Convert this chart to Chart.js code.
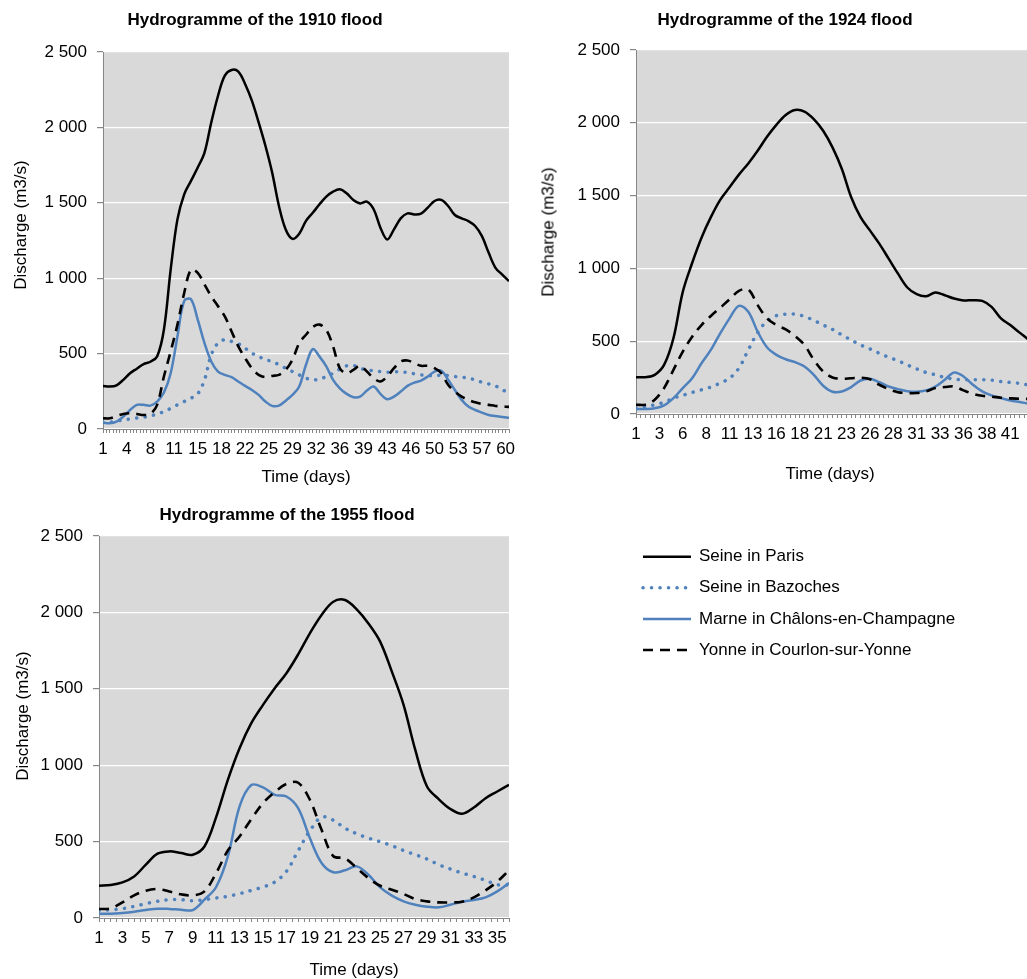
<!DOCTYPE html>
<html lang="en">
<head>
<meta charset="utf-8">
<title>Hydrogrammes des crues</title>
<script src="https://cdn.jsdelivr.net/npm/chart.js@4.4.1/dist/chart.umd.min.js"></script>
<style>
    body { margin: 0; background: #fff; overflow: hidden; }
    #lienzo { position: relative; width: 1027px; height: 979px; overflow: hidden; font-family: 'Liberation Sans', Arial, sans-serif; color: #000; }
    #lienzo canvas { position: absolute; }
    .texto { position: absolute; font-size: 17px; line-height: 1; white-space: nowrap; transform: translate(-50%, -50%); }
    .titulo { font-weight: bold; }
    .vertical { transform: translate(-50%, -50%) rotate(-90deg); }
</style>
</head>
<body>
<div id="lienzo">
    <canvas id="grafico1910" width="515" height="490" style="left:0;top:0"></canvas>
    <canvas id="grafico1924" width="500" height="490" style="left:538px;top:0"></canvas>
    <canvas id="grafico1955" width="515" height="484" style="left:0;top:495px"></canvas>
    <canvas id="leyenda" width="398" height="140" style="left:629px;top:534px"></canvas>

    <div class="texto titulo" style="left:255px;top:19px">Hydrogramme of the 1910 flood</div>
    <div class="texto titulo" style="left:785px;top:19px">Hydrogramme of the 1924 flood</div>
    <div class="texto titulo" style="left:287px;top:514px">Hydrogramme of the 1955 flood</div>

    <div class="texto vertical" style="left:19.5px;top:225px">Discharge (m3/s)</div>
    <div class="texto vertical" style="left:548px;top:232px">Discharge (m3/s)</div>
    <div class="texto vertical" style="left:21.5px;top:716px">Discharge (m3/s)</div>

    <div class="texto" style="left:306px;top:476px">Time (days)</div>
    <div class="texto" style="left:830px;top:473px">Time (days)</div>
    <div class="texto" style="left:354px;top:969px">Time (days)</div>
</div>

<script>
// Datos (m3/s por día)
const dias1910 = [1, 2, 3, 4, 5, 6, 7, 8, 9, 10, 11, 12, 13, 14, 15, 16, 17, 18, 19, 20,
    21, 22, 23, 24, 25, 26, 27, 28, 29, 30, 31, 32, 33, 34, 35, 36, 37, 38, 39, 40,
    41, 42, 43, 44, 45, 46, 47, 48, 49, 50, 51, 52, 53, 54, 55, 56, 57, 58, 59, 60, 61];
const seineParis1910 = [286, 282, 290, 326, 370, 400, 430, 446, 481, 658, 1057, 1390, 1556, 1645, 1734, 1833, 2033, 2210, 2343, 2381,
    2370, 2288, 2177, 2033, 1878, 1700, 1479, 1323, 1261, 1295, 1380, 1434, 1490, 1541, 1574, 1590, 1563, 1519, 1496, 1508,
    1457, 1335, 1257, 1324, 1397, 1430, 1423, 1428, 1468, 1512, 1519, 1479, 1419, 1397, 1379, 1346, 1279, 1168, 1069, 1024, 980];
const seineBazoches1910 = [45, 45, 52, 60, 67, 73, 78, 86, 100, 115, 137, 160, 182, 204, 233, 326, 492, 570, 592, 581,
    565, 536, 503, 481, 459, 448, 426, 403, 381, 359, 337, 326, 330, 348, 370, 397, 419, 421, 403, 392,
    386, 381, 377, 379, 379, 375, 366, 359, 355, 353, 357, 355, 348, 344, 337, 326, 310, 299, 286, 259, 245];
const marne1910 = [42, 38, 49, 82, 126, 160, 160, 155, 182, 242, 370, 614, 850, 860, 725, 570, 448, 381, 359, 344,
    315, 286, 259, 226, 182, 153, 155, 188, 226, 282, 426, 530, 480, 415, 326, 270, 233, 211, 215, 255,
    282, 233, 197, 215, 248, 286, 308, 321, 348, 381, 386, 326, 259, 193, 149, 126, 109, 93, 86, 80, 75];
const yonne1910 = [71, 71, 86, 100, 104, 100, 93, 100, 160, 348, 514, 692, 902, 1057, 1035, 958, 880, 814, 747, 647,
    548, 470, 403, 359, 344, 352, 359, 392, 459, 570, 625, 676, 692, 658, 548, 403, 370, 392, 419, 381,
    337, 315, 348, 403, 448, 454, 437, 419, 419, 403, 370, 293, 248, 215, 193, 177, 166, 160, 153, 149, 147];

const dias1924 = [1, 2, 3, 4, 5, 6, 7, 8, 9, 10, 11, 12, 13, 14, 15, 16, 17, 18, 19, 20,
    21, 22, 23, 24, 25, 26, 27, 28, 29, 30, 31, 32, 33, 34, 35, 36, 37, 38, 39, 40, 41, 42, 43];
const seineParis1924 = [253, 253, 269, 337, 520, 839, 1037, 1211, 1352, 1471, 1557, 1644, 1721, 1808, 1904, 1986, 2054, 2088, 2077, 2025,
    1945, 1831, 1683, 1489, 1352, 1261, 1170, 1067, 964, 869, 823, 809, 834, 816, 793, 780, 782, 777, 736, 657, 611, 559, 508];
const seineBazoches1924 = [41, 48, 64, 80, 109, 128, 148, 166, 185, 212, 246, 315, 440, 559, 638, 675, 686, 686, 670, 643,
    611, 581, 543, 508, 474, 447, 417, 390, 365, 337, 310, 285, 269, 251, 239, 235, 235, 235, 233, 223, 217, 210, 198];
const marne1924 = [34, 34, 39, 59, 109, 178, 246, 349, 440, 554, 657, 743, 702, 565, 458, 406, 376, 356, 326, 269,
    194, 153, 155, 185, 230, 242, 219, 189, 171, 157, 153, 162, 189, 235, 285, 258, 201, 155, 128, 109, 93, 82, 71];
const yonne1924 = [64, 64, 98, 178, 303, 429, 531, 611, 673, 730, 787, 846, 855, 748, 657, 611, 581, 536, 474, 372,
    292, 251, 242, 246, 249, 239, 201, 171, 150, 144, 144, 155, 178, 185, 189, 162, 139, 125, 119, 112, 107, 105, 103];

const dias1955 = [1, 2, 3, 4, 5, 6, 7, 8, 9, 10, 11, 12, 13, 14, 15, 16, 17, 18,
    19, 20, 21, 22, 23, 24, 25, 26, 27, 28, 29, 30, 31, 32, 33, 34, 35, 36];
const seineParis1955 = [211, 216, 233, 272, 349, 421, 436, 425, 414, 468, 660, 904, 1111, 1275, 1395, 1504, 1602, 1725,
    1863, 1983, 2070, 2081, 2020, 1928, 1809, 1612, 1395, 1100, 861, 778, 713, 682, 723, 784, 828, 872];
const seineBazoches1955 = [50, 54, 61, 76, 94, 109, 120, 120, 113, 120, 131, 142, 159, 181, 203, 235, 305, 440,
    570, 660, 640, 588, 551, 523, 499, 473, 442, 414, 386, 349, 320, 294, 272, 246, 218, 215];
const marne1955 = [28, 28, 33, 41, 52, 61, 59, 54, 52, 120, 203, 403, 730, 870, 855, 806, 795, 719,
    523, 360, 299, 312, 338, 283, 200, 146, 109, 87, 74, 70, 87, 107, 118, 135, 174, 229];
const yonne1955 = [59, 63, 102, 148, 179, 190, 174, 155, 148, 174, 294, 442, 534, 647, 752, 824, 878, 885,
    774, 577, 405, 390, 327, 261, 211, 185, 157, 124, 109, 102, 102, 107, 135, 181, 238, 312];

// Etiquetas de los ejes (como en la hoja original)
const etiquetasX1910 = ['1', '4', '8', '11', '15', '18', '22', '25', '29', '32', '36', '39', '43', '46', '50', '53', '57', '60'];
const etiquetasX1924 = ['1', '3', '6', '8', '11', '13', '16', '18', '21', '23', '26', '28', '31', '33', '36', '38', '41'];
const etiquetasX1955 = ['1', '3', '5', '7', '9', '11', '13', '15', '17', '19', '21', '23', '25', '27', '29', '31', '33', '35'];
const etiquetasY = ['0', '500', '1 000', '1 500', '2 000', '2 500'];

const nombresSeries = ['Seine in Paris', 'Seine in Bazoches', 'Marne in Châlons-en-Champagne', 'Yonne in Courlon-sur-Yonne'];

// Estilo de cada serie
const estilos = [
    { color: '#000000', ancho: 2.5, guiones: [], extremo: 'butt', orden: 4 },
    { color: '#4f81bd', ancho: 3.5, guiones: [0.1, 8.4], extremo: 'round', orden: 3 },
    { color: '#4f81bd', ancho: 2.5, guiones: [], extremo: 'butt', orden: 2 },
    { color: '#000000', ancho: 2.6, guiones: [10, 7], extremo: 'butt', orden: 1 }
];

const GRIS_EJE = '#868686';
const FUENTE = "'Liberation Sans', Arial, sans-serif";

Chart.defaults.font.family = FUENTE;
Chart.defaults.font.size = 17;
Chart.defaults.color = '#000';

// Fondo gris del área de trazado
const fondoGris = {
    id: 'fondoGris',
    beforeDraw(chart) {
        const { ctx, chartArea } = chart;
        ctx.save();
        ctx.fillStyle = '#d9d9d9';
        ctx.fillRect(chartArea.left, chartArea.top, chartArea.width, chartArea.height);
        ctx.restore();
    }
};

// Leyenda con muestras de línea (trazos y puntos iguales a las series)
const leyendaLineas = {
    id: 'leyendaLineas',
    afterDraw(chart, args, opts) {
        const ctx = chart.ctx;
        chart.data.datasets.forEach(function (ds, i) {
            const y = opts.arriba + i * opts.interlineado;
            ctx.save();
            ctx.strokeStyle = ds.borderColor;
            ctx.lineWidth = ds.borderWidth;
            ctx.lineCap = ds.borderCapStyle;
            ctx.setLineDash(ds.borderDash);
            ctx.beginPath();
            ctx.moveTo(opts.izquierda, y);
            ctx.lineTo(opts.izquierda + opts.largo, y);
            ctx.stroke();
            ctx.setLineDash([]);
            ctx.fillStyle = '#000';
            ctx.font = '17px ' + FUENTE;
            ctx.textBaseline = 'middle';
            ctx.fillText(ds.label, opts.izquierda + opts.largo + 8, y);
            ctx.restore();
        });
    }
};

function estiloSerie(i) {
    const e = estilos[i];
    return {
        label: nombresSeries[i],
        borderColor: e.color,
        backgroundColor: e.color,
        borderWidth: e.ancho,
        borderDash: e.guiones,
        borderCapStyle: e.extremo,
        pointRadius: 0,
        pointHoverRadius: 0,
        tension: 0.35,
        fill: false
    };
}

function crearHidrograma(id, dias, valores, etiquetasX, saltoEtiqueta, marco) {
    const datasets = valores.map(function (serie, i) {
        const ds = estiloSerie(i);
        ds.order = estilos[i].orden;
        ds.data = dias.map((d, j) => ({ x: d, y: serie[j] }));
        return ds;
    });

    return new Chart(document.getElementById(id), {
        type: 'line',
        data: { datasets: datasets },
        plugins: [fondoGris],
        options: {
            responsive: false,
            animation: false,
            devicePixelRatio: 1,
            layout: {
                padding: { left: 0, right: marco.derecha, top: marco.arriba, bottom: marco.abajo }
            },
            plugins: {
                legend: { display: false },
                tooltip: { enabled: false }
            },
            scales: {
                x: {
                    type: 'linear',
                    min: dias[0],
                    max: dias[dias.length - 1],
                    afterBuildTicks: function (escala) {
                        // una marca cada medio día, como en el eje de categorías original
                        const marcas = [];
                        for (let v = dias[0]; v <= dias[dias.length - 1]; v += 0.5) {
                            marcas.push({ value: v });
                        }
                        escala.ticks = marcas;
                    },
                    afterFit: function (escala) { escala.height = 40; },
                    ticks: {
                        autoSkip: false,
                        maxRotation: 0,
                        padding: 6,
                        callback: function (valor, indice) {
                            return indice % saltoEtiqueta === 0 ? etiquetasX[indice / saltoEtiqueta] : '';
                        }
                    },
                    grid: {
                        drawOnChartArea: false,
                        drawTicks: true,
                        tickLength: 4,
                        tickColor: GRIS_EJE,
                        color: GRIS_EJE
                    },
                    border: { color: GRIS_EJE, width: 1 }
                },
                y: {
                    min: 0,
                    max: 2500,
                    afterFit: function (escala) { escala.width = marco.anchoY; },
                    ticks: {
                        stepSize: 500,
                        padding: 10,
                        callback: (valor, indice) => etiquetasY[indice]
                    },
                    grid: {
                        color: '#ffffff',
                        lineWidth: 1.2,
                        tickLength: 6,
                        tickColor: GRIS_EJE
                    },
                    border: { color: GRIS_EJE, width: 1 }
                }
            }
        }
    });
}

crearHidrograma('grafico1910', dias1910,
    [seineParis1910, seineBazoches1910, marne1910, yonne1910],
    etiquetasX1910, 7, { anchoY: 103, arriba: 52, abajo: 21, derecha: 5 });

crearHidrograma('grafico1924', dias1924,
    [seineParis1924, seineBazoches1924, marne1924, yonne1924],
    etiquetasX1924, 5, { anchoY: 98, arriba: 50, abajo: 36, derecha: 9 });

crearHidrograma('grafico1955', dias1955,
    [seineParis1955, seineBazoches1955, marne1955, yonne1955],
    etiquetasX1955, 4, { anchoY: 99, arriba: 41, abajo: 21, derecha: 2 });

// Leyenda común a los tres gráficos
new Chart(document.getElementById('leyenda'), {
    type: 'line',
    data: {
        datasets: nombresSeries.map((n, i) => Object.assign(estiloSerie(i), { data: [] }))
    },
    plugins: [leyendaLineas],
    options: {
        responsive: false,
        animation: false,
        devicePixelRatio: 1,
        scales: { x: { display: false }, y: { display: false } },
        plugins: {
            tooltip: { enabled: false },
            legend: { display: false },
            leyendaLineas: { izquierda: 14, arriba: 22.7, interlineado: 31.1, largo: 48 }
        }
    }
});
</script>
</body>
</html>
